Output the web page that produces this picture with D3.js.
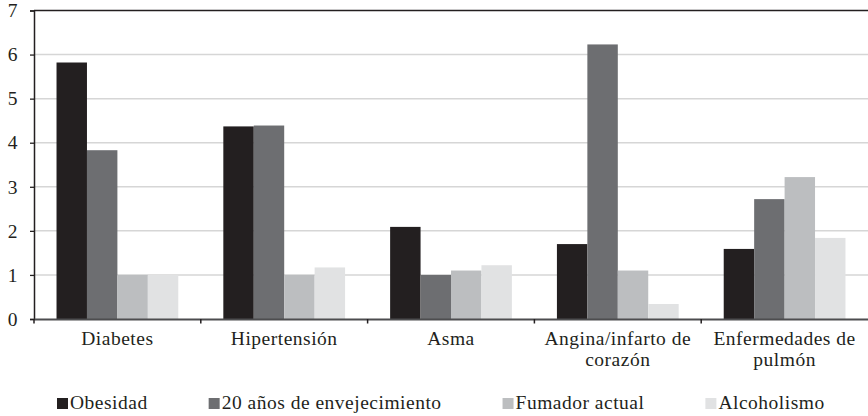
<!DOCTYPE html>
<html>
<head>
<meta charset="utf-8">
<script src="https://cdn.jsdelivr.net/npm/d3@7"></script>
<style>
  html, body { margin: 0; padding: 0; background: #fff; }
  svg text { font-family: "Liberation Serif", "DejaVu Serif", serif; fill: #231f20; letter-spacing: 0.5px; }
</style>
</head>
<body>
<svg id="chart" width="868" height="416"></svg>
<script>
// Chronic conditions (categories) and risk-factor series
const categories = ["Diabetes", "Hipertensión", "Asma", "Angina/infarto de corazón", "Enfermedades de pulmón"];
const seriesNames = ["Obesidad", "20 años de envejecimiento", "Fumador actual", "Alcoholismo"];
const obesidad       = [5.82, 4.37, 2.09, 1.70, 1.59];
const envejecimiento = [3.83, 4.39, 1.00, 6.23, 2.72];
const fumador        = [1.00, 1.00, 1.10, 1.10, 3.22];
const alcoholismo    = [1.00, 1.17, 1.22, 0.34, 1.84];
const yTicks = [0, 1, 2, 3, 4, 5, 6, 7];

const seriesValues = [obesidad, envejecimiento, fumador, alcoholismo];
const colors = ["#231f20", "#6d6e71", "#bcbec0", "#e1e2e3"];
const fontSize = 19.5;

const svg = d3.select("#chart");
const plotLeft = 34, plotRight = 868, plotTop = 10.5, plotBottom = 319;

const x = d3.scaleBand().domain(categories).range([plotLeft, plotRight]).paddingInner(0).paddingOuter(0);
const xs = d3.scaleBand().domain(seriesNames).range([0, x.bandwidth()]).paddingInner(0).paddingOuter(0.74);
const y = d3.scaleLinear().domain([0, 7]).range([plotBottom, plotTop]);

// horizontal gridlines
svg.append("g")
  .selectAll("line")
  .data(yTicks.filter(t => t > 0 && t < 7))
  .join("line")
  .attr("x1", plotLeft).attr("x2", plotRight)
  .attr("y1", d => y(d)).attr("y2", d => y(d))
  .attr("stroke", "#d6d6d6").attr("stroke-width", 1.5);

// top border
svg.append("line")
  .attr("x1", plotLeft).attr("x2", plotRight)
  .attr("y1", y(7)).attr("y2", y(7))
  .attr("stroke", "#231f20").attr("stroke-width", 1.5);

// bars
const rows = categories.map((c, i) => ({ cat: c, vals: seriesValues.map((s, j) => ({ name: seriesNames[j], v: s[i], color: colors[j] })) }));
svg.append("g")
  .selectAll("g")
  .data(rows)
  .join("g")
  .attr("transform", d => `translate(${x(d.cat)},0)`)
  .selectAll("rect")
  .data(d => d.vals)
  .join("rect")
  .attr("x", d => xs(d.name))
  .attr("width", xs.bandwidth())
  .attr("y", d => y(d.v))
  .attr("height", d => y(0) - y(d.v))
  .attr("fill", d => d.color);

// y axis
const yAxis = svg.append("g")
  .attr("transform", `translate(${plotLeft},0)`)
  .call(d3.axisLeft(y).tickValues(yTicks).tickSize(4).tickPadding(12).tickFormat(d3.format("d")));
yAxis.select(".domain").attr("stroke", "#231f20").attr("stroke-width", 1.5);
yAxis.selectAll(".tick line").attr("stroke", "#231f20").attr("stroke-width", 1.3);
yAxis.selectAll(".tick text").attr("font-size", fontSize).attr("dy", "0.32em")
  .style("font-family", "Liberation Serif, serif");

// x axis
const xAxis = svg.append("g")
  .attr("transform", `translate(0,${plotBottom})`)
  .call(d3.axisBottom(x).tickSize(0).tickFormat(""));
xAxis.select(".domain").attr("stroke", "#4d4d4f").attr("stroke-width", 2.2);
xAxis.selectAll(".tick").remove();

// category boundary ticks
svg.append("g")
  .selectAll("line")
  .data(categories.map(c => x(c)))
  .join("line")
  .attr("x1", d => d).attr("x2", d => d)
  .attr("y1", plotBottom).attr("y2", plotBottom + 4.5)
  .attr("stroke", "#231f20").attr("stroke-width", 1.5);

// category labels, wrapped to the band width
const labels = svg.append("g")
  .selectAll("text")
  .data(categories)
  .join("text")
  .attr("x", d => x(d) + x.bandwidth() / 2)
  .attr("y", 345)
  .attr("text-anchor", "middle")
  .attr("font-size", fontSize);

labels.each(function(d) {
  const t = d3.select(this);
  const cx = x(d) + x.bandwidth() / 2;
  const words = d.split(" ");
  let line = [];
  let tspan = t.append("tspan").attr("x", cx).attr("dy", 0);
  words.forEach(w => {
    line.push(w);
    tspan.text(line.join(" "));
    if (tspan.node().getComputedTextLength() > x.bandwidth() - 4 && line.length > 1) {
      line.pop();
      tspan.text(line.join(" "));
      line = [w];
      tspan = t.append("tspan").attr("x", cx).attr("dy", 21).text(w);
    }
  });
});

// legend
const legend = svg.append("g");
let lx = 57;
seriesNames.forEach((name, i) => {
  legend.append("rect")
    .attr("x", lx).attr("y", 398)
    .attr("width", 11).attr("height", 11)
    .attr("fill", colors[i]);
  const txt = legend.append("text")
    .attr("x", lx + 13).attr("y", 409)
    .attr("font-size", fontSize)
    .text(name);
  lx = lx + 13 + txt.node().getComputedTextLength() + 61;
});
</script>
</body>
</html>
